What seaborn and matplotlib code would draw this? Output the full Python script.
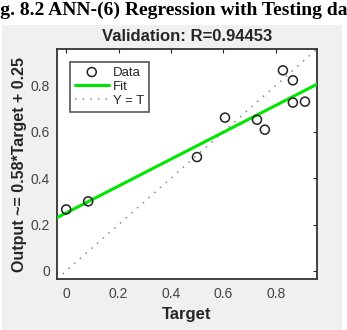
import numpy as np
import pandas as pd
import matplotlib
matplotlib.use("Agg")
import matplotlib.pyplot as plt
import seaborn as sns
from matplotlib.patches import Rectangle

# ---- data ----
target = [0.000, 0.084, 0.499, 0.606, 0.728, 0.758, 0.827, 0.865, 0.865, 0.911]
output = [0.265, 0.300, 0.491, 0.661, 0.652, 0.609, 0.865, 0.822, 0.726, 0.730]
fit_slope = 0.58
fit_intercept = 0.25
axis_limits = [-0.035, 0.957]
xticks = [0, 0.2, 0.4, 0.6, 0.8]
yticks = [0, 0.2, 0.4, 0.6, 0.8]
title = "Validation: R=0.94453"
xlabel = "Target"
ylabel = "Output ~= 0.58*Target + 0.25"
caption = "Fig. 8.2 ANN-(6) Regression with Testing data"

sns.set_style("white")
plt.rcParams['font.family'] = ['Liberation Sans', 'DejaVu Sans']

W, H = 347, 330
fig = plt.figure(figsize=(W / 100, H / 100), dpi=100)
fig.patch.set_facecolor('white')
fig.patches.append(Rectangle((2 / W, 0), 340 / W, 305 / H, transform=fig.transFigure,
                             facecolor='#f0f0f0', edgecolor='none', zorder=-10))
fig.text(-17 / W, (H - 14.5) / H, caption, family=['Liberation Serif', 'DejaVu Serif'],
         fontweight='bold', fontsize=14, ha='left', va='baseline', color='black')

ax = fig.add_axes([57 / W, (H - 279) / H, 260 / W, 230 / H])
ax.set_facecolor('white')

df = pd.DataFrame({'Target': target, 'Output': output})
lim = np.array(axis_limits)
fit_df = pd.DataFrame({'x': lim, 'y': fit_slope * lim + fit_intercept})
id_df = pd.DataFrame({'x': lim, 'y': lim})

sns.lineplot(data=id_df, x='x', y='y', ax=ax, color='#8a8a8a', linewidth=1.1,
             linestyle=(0, (1, 4)), label='Y = T', zorder=2)
sns.lineplot(data=fit_df, x='x', y='y', ax=ax, color='#00e600', linewidth=2.2,
             label='Fit', zorder=3)
sns.scatterplot(data=df, x='Target', y='Output', ax=ax, marker='o', s=42,
                facecolor='none', edgecolor='#222222', linewidth=1.1,
                label='Data', zorder=4)

ax.set_xlim(axis_limits)
ax.set_ylim(axis_limits)
ax.set_xticks(xticks)
ax.set_yticks(yticks)
ax.set_xticklabels(['0', '0.2', '0.4', '0.6', '0.8'])
ax.set_yticklabels(['0', '0.2', '0.4', '0.6', '0.8'])
ax.tick_params(direction='in', length=3, width=0.8, color='#262626',
               top=True, right=True, labelsize=10, labelcolor='#444444')
ax.tick_params(axis='x', pad=6)
ax.tick_params(axis='y', pad=5)
for s in ax.spines.values():
    s.set_color('#333333')
    s.set_linewidth(1.3)

ax.set_title(title, fontsize=12, fontweight='bold', color='#262626', pad=6)
ax.set_xlabel(xlabel, fontsize=12, fontweight='bold', color='#262626', labelpad=4)
ax.set_ylabel(ylabel, fontsize=11.5, fontweight='bold', color='#262626', labelpad=3)

handles, labels = ax.get_legend_handles_labels()
order = [labels.index('Data'), labels.index('Fit'), labels.index('Y = T')]
leg = ax.legend([handles[i] for i in order], [labels[i] for i in order],
                loc='upper left', bbox_to_anchor=(0.05, 0.945), fontsize=9.5,
                frameon=True, fancybox=False, edgecolor='#555555', framealpha=1,
                handlelength=2.6, handletextpad=0.3, labelspacing=0.15,
                borderpad=0.35, borderaxespad=0)
leg.get_frame().set_linewidth(1.2)
for t in leg.get_texts():
    t.set_color('#262626')

fig.savefig('out.png', dpi=100)
